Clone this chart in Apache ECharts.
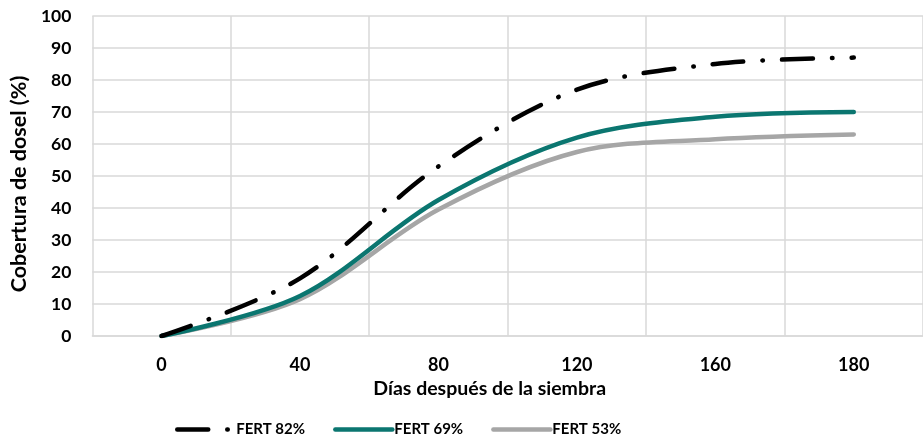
<!DOCTYPE html>
<html>
<head>
<meta charset="utf-8">
<script src="https://cdn.jsdelivr.net/npm/echarts@6/dist/echarts.min.js"></script>
<style>
html,body{margin:0;padding:0;background:#fff;}
#chart{width:923px;height:441px;}
</style>
</head>
<body>
<div id="chart"></div>
<script>
const days = ['0', '40', '80', '120', '160', '180'];
const fert82 = [0, 18, 53, 77, 85, 87];
const fert69 = [0, 12.5, 42.5, 62, 68.5, 70];
const fert53 = [0, 11.5, 39.5, 57.5, 61.5, 63];
const seriesNames = ['FERT 82%', 'FERT 69%', 'FERT 53%'];
const yTicks = { min: 0, max: 100, interval: 10 };

const FONT = 'Lato';
const chart = echarts.init(document.getElementById('chart'), null, { renderer: 'canvas' });
const gridColor = '#d9d9d9';

chart.setOption({
  animation: false,
  backgroundColor: '#ffffff',
  grid: { left: 91, top: 16, width: 840, height: 320, containLabel: false },
  legend: {
    bottom: 4,
    left: 175,
    padding: 0,
    itemWidth: 57,
    itemHeight: 14,
    itemGap: 28,
    lineStyle: { width: 4.5 },
    itemStyle: { color: 'transparent', borderWidth: 0, opacity: 0 },
    textStyle: { fontFamily: FONT, fontWeight: 'bold', fontSize: 15, color: '#000', padding: [0, 0, 0, -3] },
    data: seriesNames
  },
  xAxis: {
    type: 'category',
    data: days,
    boundaryGap: true,
    axisLine: { show: true, lineStyle: { color: gridColor, width: 1.5 } },
    axisTick: { show: false },
    axisLabel: { margin: 20, fontFamily: FONT, fontWeight: 'bold', fontSize: 18, color: '#000' },
    splitLine: { show: true, lineStyle: { color: gridColor, width: 1.5 } },
    name: 'Días después de la siembra',
    nameLocation: 'middle',
    nameGap: 42,
    nameTextStyle: { fontFamily: FONT, fontWeight: 'bold', fontSize: 19.5, color: '#000', padding: [0, 36, 0, 0] }
  },
  yAxis: {
    type: 'value',
    min: yTicks.min,
    max: yTicks.max,
    interval: yTicks.interval,
    axisLine: { show: false },
    axisTick: { show: false },
    axisLabel: { margin: 21, fontFamily: FONT, fontWeight: 'bold', fontSize: 17.5, color: '#000' },
    splitLine: { show: true, lineStyle: { color: gridColor, width: 1.5 } },
    name: 'Cobertura de dosel (%)',
    nameLocation: 'middle',
    nameGap: 59,
    nameTextStyle: { fontFamily: FONT, fontWeight: 'bold', fontSize: 21.5, color: '#000', padding: [0, 0, 0, -16] }
  },
  series: [
    {
      name: seriesNames[0], type: 'line', data: fert82, smooth: 0.33,
      symbol: 'none', showSymbol: false, z: 5,
      itemStyle: { color: '#000000' },
      lineStyle: { color: '#000000', width: 4.5, type: [31, 19, 0.5, 19], cap: 'round' }
    },
    {
      name: seriesNames[1], type: 'line', data: fert69, smooth: 0.33,
      symbol: 'none', showSymbol: false, z: 4,
      itemStyle: { color: '#0b7670' },
      lineStyle: { color: '#0b7670', width: 4.5, cap: 'round' }
    },
    {
      name: seriesNames[2], type: 'line', data: fert53, smooth: 0.33,
      symbol: 'none', showSymbol: false, z: 3,
      itemStyle: { color: '#a6a6a6' },
      lineStyle: { color: '#a6a6a6', width: 4.5, cap: 'round' }
    }
  ]
});
</script>
</body>
</html>
